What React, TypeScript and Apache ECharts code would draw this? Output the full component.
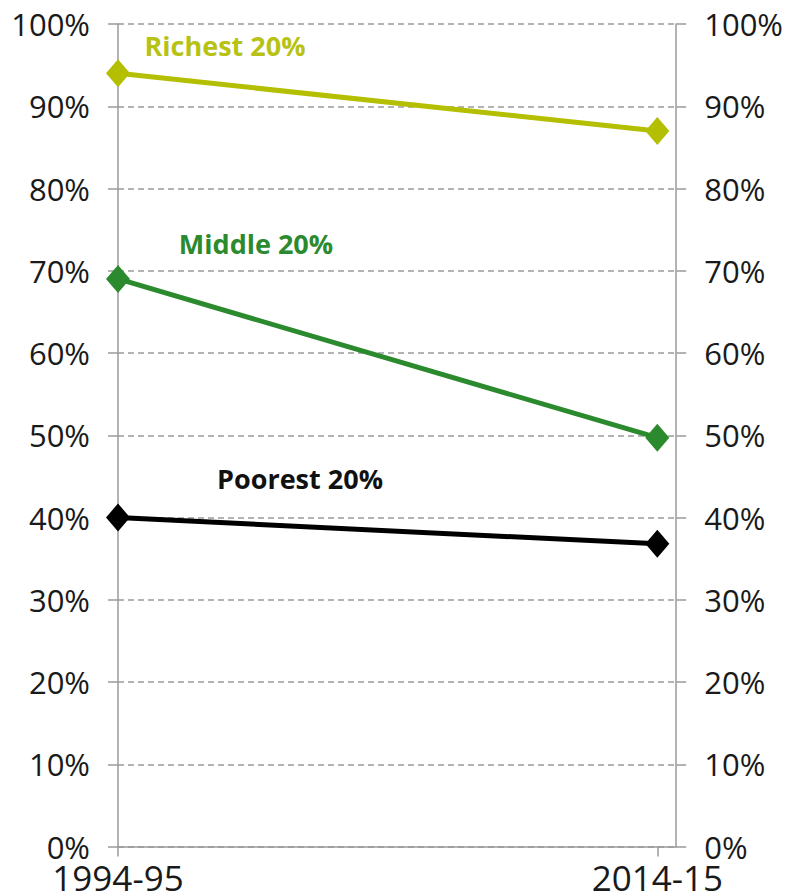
import React, { useEffect, useRef } from "react";
import * as echarts from "echarts";

const categories = ["1994-95", "2014-15"];
const seriesNames = ["Richest 20%", "Middle 20%", "Poorest 20%"];
const richest = [94, 87];
const middle = [69, 49.7];
const poorest = [40, 36.8];
const yTicks = { min: 0, max: 100, interval: 10 };

const FONT = "'Open Sans', 'Noto Sans', sans-serif";
const C_RICH = "#b3bf00";
const C_MID = "#2b8a2e";
const C_POOR = "#000000";

export default function App() {
  const ref = useRef<HTMLDivElement>(null);
  useEffect(() => {
    document.body.style.margin = "0";
    if (!ref.current) return;
    const chart = echarts.init(ref.current, null, { renderer: "svg" });
    const toPts = (arr: number[]) => arr.map((v, i) => [i, v]);
    const axisColor = "#9a9a9a";
    const yAxisCommon = {
      type: "value" as const,
      min: yTicks.min,
      max: yTicks.max,
      interval: yTicks.interval,
      axisLine: { show: true, lineStyle: { color: axisColor, width: 1.5 } },
      axisTick: { show: true, length: 10, lineStyle: { color: axisColor, width: 1.5 } },
      axisLabel: {
        formatter: "{value}%",
        fontFamily: FONT,
        fontSize: 31,
        lineHeight: 24,
        color: "#1a1a1a",
        margin: 28,
      },
    };
    const mkSeries = (name: string, data: number[], color: string) => ({
      name,
      type: "line",
      data: toPts(data),
      symbol: "diamond",
      symbolSize: [24, 28],
      lineStyle: { color, width: 5 },
      itemStyle: { color },
      z: 3,
    });
    chart.setOption({
      animation: false,
      grid: { left: 118, right: 108, top: 24, bottom: 47, containLabel: false },
      xAxis: {
        type: "value",
        min: 0,
        max: 1.035,
        interval: 1,
        axisLine: { show: true, onZero: false, lineStyle: { color: axisColor, width: 1.5 } },
        axisTick: { show: true, length: 10, customValues: [0, 1], lineStyle: { color: axisColor, width: 1.5 } },
        splitLine: { show: false },
        axisLabel: {
          customValues: [0, 1],
          formatter: (v: number) => categories[Math.round(v)] ?? "",
          fontFamily: FONT,
          fontSize: 35,
          lineHeight: 28,
          color: "#1a1a1a",
          margin: 17,
        },
      },
      yAxis: [
        {
          ...yAxisCommon,
          position: "left",
          splitLine: { show: true, lineStyle: { color: axisColor, type: [6, 4], width: 1.5 } },
        },
        {
          ...yAxisCommon,
          position: "right",
          splitLine: { show: false },
        },
      ],
      series: [
        mkSeries(seriesNames[0], richest, C_RICH),
        mkSeries(seriesNames[1], middle, C_MID),
        mkSeries(seriesNames[2], poorest, C_POOR),
      ],
      graphic: [
        {
          type: "text",
          x: 225,
          y: 45,
          style: { text: seriesNames[0], fill: "#b7c214", font: `bold 27px ${FONT}`, align: "center", verticalAlign: "middle" },
        },
        {
          type: "text",
          x: 256,
          y: 243,
          style: { text: seriesNames[1], fill: C_MID, font: `bold 27px ${FONT}`, align: "center", verticalAlign: "middle" },
        },
        {
          type: "text",
          x: 300,
          y: 478,
          style: { text: seriesNames[2], fill: "#111", font: `bold 27px ${FONT}`, align: "center", verticalAlign: "middle" },
        },
      ],
    });
    return () => chart.dispose();
  }, []);
  return <div ref={ref} style={{ width: 786, height: 895 }} />;
}
